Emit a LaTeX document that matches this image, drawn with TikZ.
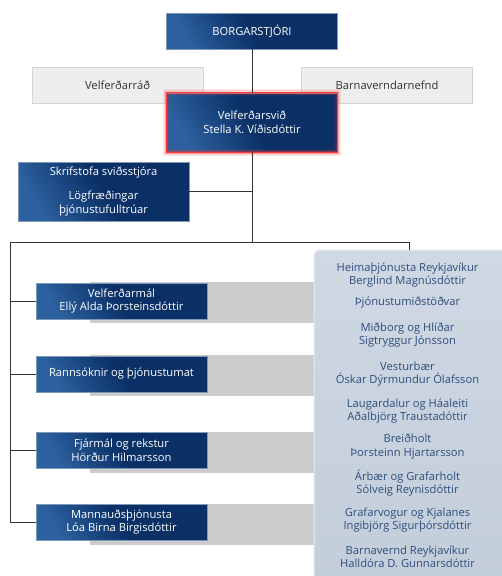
\documentclass[tikz,border=0pt]{standalone}
\usepackage{fontspec}
\setmainfont{Open Sans}
\definecolor{navy}{HTML}{0A3066}
\definecolor{navylight}{HTML}{2C609E}
\definecolor{navyedge}{HTML}{7F98B8}
\definecolor{greybox}{HTML}{EEEEEE}
\definecolor{greyedge}{HTML}{D4D4D4}
\definecolor{band}{HTML}{CCCCCC}
\definecolor{panelbot}{HTML}{C3CEDB}
\definecolor{paneltop}{HTML}{CFD8E3}
\definecolor{paneledge}{HTML}{E4EAF0}
\definecolor{paneltext}{HTML}{2F4E7E}
\definecolor{wire}{HTML}{333333}
\definecolor{glow}{HTML}{FF3A3A}
\definecolor{darktext}{HTML}{333333}

\begin{document}
\begin{tikzpicture}[x=1pt,y=-1pt,
  font=\fontsize{11.2}{13.8}\selectfont,
  bluebox/.style={minimum width=171pt, minimum height=36pt, inner sep=0pt,
    align=center, text=white, draw=navyedge, line width=0.6pt,
    left color=navylight, right color=navy, middle color=navy, shading angle=120},
  greybx/.style={minimum width=171pt, minimum height=36pt, inner sep=0pt,
    align=center, text=darktext, fill=greybox, draw=greyedge, line width=0.6pt},
  unit/.style={align=center, text=paneltext, inner sep=0pt, font=\fontsize{11.2}{13.2}\selectfont},
  wireline/.style={draw=wire, line width=0.8pt}]
\useasboundingbox (0,0) rectangle (501,576);
\fill[white] (0,0) rectangle (501,576);

% grey bands behind the branch boxes
\foreach \t in {282,355,432,504}
  \fill[band] (90,\t) rectangle (316,\t+41);

% top level
\node[bluebox] (mayor) at (252,31) {BORGARSTJÓRI};
\node[greybx] (council) at (117.5,85) {Velferðarráð};
\node[greybx] (childboard) at (387,85) {Barnaverndarnefnd};

% the division, with its red glow
\node[bluebox, minimum height=59pt] (dept) at (252,122.5)
  {Velferðarsvið\\Stella K. Víðisdóttir};
\draw[glow, opacity=0.1, line width=7pt] (dept.north west) rectangle (dept.south east);
\draw[glow, opacity=0.15, line width=4.5pt] (dept.north west) rectangle (dept.south east);
\draw[glow, opacity=0.3, line width=2.4pt] (dept.north west) rectangle (dept.south east);
\draw[glow, line width=0.9pt] (dept.north west) rectangle (dept.south east);

\node[bluebox, minimum height=59pt] (office) at (103.5,191.5)
  {Skrifstofa sviðsstjóra\\[10pt]Lögfræðingar\\þjónustufulltrúar};

% branches
\node[bluebox] (b1) at (121.5,301) {Velferðarmál\\Ellý Alda Þorsteinsdóttir};
\node[bluebox] (b2) at (121.5,374) {Rannsóknir og þjónustumat};
\node[bluebox] (b3) at (121.5,450) {Fjármál og rekstur\\Hörður Hilmarsson};
\node[bluebox] (b4) at (121.5,522) {Mannauðsþjónusta\\Lóa Birna Birgisdóttir};

% service centre panel
\node[minimum width=193pt, minimum height=330pt, inner sep=0pt,
  rounded corners=6pt, top color=paneltop, bottom color=panelbot,
  draw=paneledge, line width=1pt] (panel) at (410.5,415) {};

\node[unit] (u1) at (407.5,275) {Heimaþjónusta Reykjavíkur\\Berglind Magnúsdóttir};
\node[unit] (u2) at (407.5,303) {Þjónustumiðstöðvar};
\node[unit] (u3) at (407.5,335) {Miðborg og Hlíðar\\Sigtryggur Jónsson};
\node[unit] (u4) at (407.5,374) {Vesturbær\\Óskar Dýrmundur Ólafsson};
\node[unit] (u5) at (407.5,411) {Laugardalur og Háaleiti\\Aðalbjörg Traustadóttir};
\node[unit] (u6) at (407.5,446.5) {Breiðholt\\Þorsteinn Hjartarsson};
\node[unit] (u7) at (407.5,483) {Árbær og Grafarholt\\Sólveig Reynisdóttir};
\node[unit] (u8) at (407.5,520) {Grafarvogur og Kjalanes\\Ingibjörg Sigurþórsdóttir};
\node[unit] (u9) at (407.5,557) {Barnavernd Reykjavíkur\\Halldóra D. Gunnarsdóttir};

% connectors
\coordinate (hub) at (252,242);
\coordinate (railtop) at (10,242);
\coordinate (railend) at (10,522);
\coordinate (tap) at (409,242);
\draw[wireline] (mayor.south) -- (dept.north);
\draw[wireline] (dept.south) -- (hub);
\draw[wireline] (office.east) -- (office.east -| hub);
\draw[wireline] (railtop) -- (tap) -- (tap |- panel.north);
\draw[wireline] (railtop) -- (railend);
\foreach \b in {b1,b2,b3,b4}
  \draw[wireline] (\b.west -| railtop) -- (\b.west);
\end{tikzpicture}
\end{document}
